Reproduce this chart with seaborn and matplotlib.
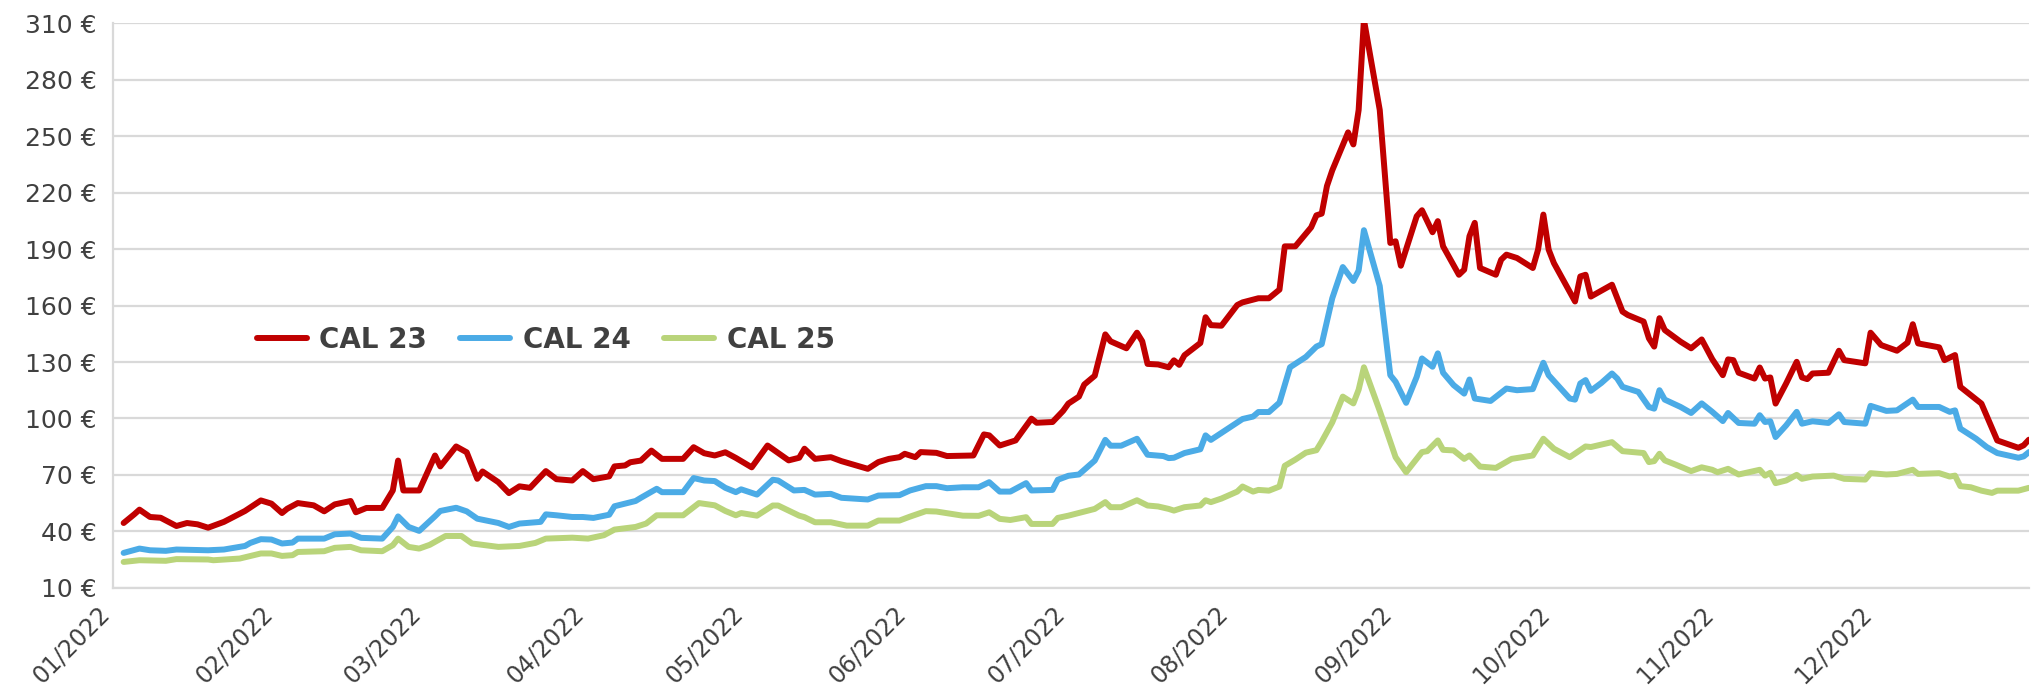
import pandas as pd
import matplotlib.pyplot as plt
import matplotlib.dates as mdates
from matplotlib.ticker import FuncFormatter
from matplotlib.transforms import ScaledTranslation
import seaborn as sns

# day of year offsets (0 = 01/01/2022) and prices in EUR
cal23_days = [2, 4, 5, 7, 9, 12, 14, 16, 18, 21, 25, 28, 30, 32, 33, 35, 38, 40, 42, 45,
              46, 48, 51, 53, 54, 55, 58, 61, 62, 65, 67, 69, 70, 73, 75, 77, 79, 82, 84, 87,
              89, 91, 94, 95, 97, 98, 100, 102, 104, 108, 110, 112, 114, 116, 118, 121, 124, 128, 130, 131,
              133, 136, 138, 143, 145, 147, 149, 150, 152, 153, 156, 158, 163, 165, 166, 168, 171, 174, 175, 178,
              180, 181, 183, 184, 186, 188, 189, 192, 194, 195, 196, 198, 200, 201, 202, 203, 206, 207, 208, 210,
              213, 214, 217, 219, 221, 222, 224, 227, 228, 229, 230, 231, 234, 235, 236, 237, 240, 242, 243, 244,
              247, 248, 250, 251, 252, 255, 256, 257, 258, 259, 262, 263, 264, 266, 269, 270, 271, 272, 273, 277,
              278, 279, 280, 284, 286, 287, 290, 291, 292, 293, 294, 297, 299, 301, 303, 305, 306, 307, 308, 311,
              312, 313, 314, 315, 317, 319, 320, 321, 322, 325, 327, 328, 332, 333, 335, 338, 340, 341, 342, 346,
              347, 349, 350, 354, 357, 361, 362, 363]
cal23_values = [44.4, 49, 51.5, 47.6, 47.2, 42.8, 44.4, 43.7, 41.9, 45, 50.8, 56.4, 54.7, 49.7, 52, 55, 53.8, 50.6, 54.3, 56.1,
                50.1, 52.4, 52.4, 61.7, 77.6, 61.7, 61.7, 80.3, 74.5, 85.1, 82, 67.9, 71.8, 66.1, 60.3, 63.9, 63.1, 72, 67.7, 67,
                72, 67.7, 69.2, 74.5, 75, 76.7, 77.6, 82.9, 78.5, 78.5, 84.7, 81.5, 80.3, 82, 79, 74, 85.6, 77.7, 79.1, 83.9,
                78.5, 79.4, 77.3, 73.2, 76.8, 78.5, 79.4, 81.2, 79.4, 82.1, 81.7, 80, 80.3, 91.5, 91, 85.6, 88.3, 99.9, 97.7, 98.1,
                104, 107.9, 111.6, 118, 122.7, 144.7, 141, 137.3, 145.6, 141, 129, 128.7, 127.2, 130.9, 128.5, 133.6, 140.1, 153.8, 149.6, 149.3,
                160.3, 161.7, 163.9, 163.9, 168.5, 191.5, 191.5, 201.6, 208, 208.9, 223.6, 231.9, 252.1, 245.7, 264, 312, 264, 193.3, 194.2, 181.2,
                207.5, 210.7, 199, 204.9, 191.5, 176.4, 179.1, 196.9, 204, 180, 176.4, 184.4, 187.1, 185.3, 180, 189.8, 208.4, 189.8, 182.6, 162.2,
                175.5, 176.4, 164.8, 171.1, 156.8, 155, 151.5, 142.6, 138.2, 153.3, 147, 140.8, 137.3, 142, 131.5, 123, 131.4, 131, 124.3, 121.2,
                127.1, 121.2, 121.8, 107.9, 118.6, 130.1, 121.8, 120.9, 123.9, 124.3, 136, 131, 129.3, 145.6, 139, 136, 140.3, 150.1, 139.9, 137.8,
                131, 133.7, 116.8, 107.9, 88.3, 84.4, 85.7, 88.7]

cal24_days = [2, 5, 7, 10, 12, 18, 21, 25, 26, 28, 30, 32, 34, 35, 40, 42, 45, 47, 51, 53,
              54, 56, 58, 61, 62, 65, 67, 69, 73, 75, 77, 81, 82, 84, 87, 89, 91, 94, 95, 99,
              100, 103, 104, 108, 110, 112, 114, 116, 118, 119, 122, 125, 126, 129, 131, 133, 136, 138, 143, 145,
              149, 151, 154, 156, 158, 161, 164, 166, 168, 170, 173, 174, 178, 179, 181, 183, 186, 188, 189, 191,
              194, 196, 199, 200, 201, 203, 206, 207, 208, 213, 214, 216, 217, 219, 221, 223, 226, 228, 229, 231,
              233, 235, 236, 237, 240, 242, 243, 245, 247, 248, 250, 251, 252, 254, 256, 257, 258, 261, 264, 266,
              269, 271, 272, 276, 277, 278, 279, 280, 282, 284, 285, 286, 289, 291, 292, 293, 294, 297, 299, 301,
              303, 305, 306, 308, 311, 312, 313, 314, 315, 317, 319, 320, 322, 325, 327, 328, 332, 333, 336, 338,
              341, 342, 346, 348, 349, 350, 353, 355, 357, 361, 362, 363]
cal24_values = [28.5, 30.8, 29.9, 29.6, 30.3, 29.9, 30.3, 32.2, 33.8, 35.8, 35.6, 33.5, 34, 36.1, 36.1, 38.4, 38.8, 36.5, 36.1, 42.3,
                47.9, 42.3, 40.2, 48, 50.8, 52.5, 50.6, 46.7, 44.4, 42.3, 44.1, 45, 49, 48.5, 47.6, 47.6, 47.1, 48.8, 53.3, 56.1,
                57.8, 62.6, 60.8, 60.8, 68.3, 67, 66.7, 63.1, 60.8, 62.3, 59.5, 67.4, 67, 61.7, 62, 59.5, 59.9, 57.8, 56.9, 59,
                59.2, 61.7, 64, 64, 62.9, 63.4, 63.4, 66.1, 61.1, 61.1, 65.6, 61.7, 62, 67.4, 69.5, 70.2, 77.6, 88.6, 85.5, 85.5,
                89.2, 80.7, 80, 78.9, 79.1, 81.6, 83.6, 91, 88.6, 97.9, 99.7, 101, 103.4, 103.4, 108.4, 127.2, 132.7, 138.2, 139.5, 163.9,
                180.5, 173.1, 178.6, 200.1, 170.4, 123, 119.5, 108.3, 122.1, 131.9, 127.5, 134.6, 124.3, 117.7, 113.2, 120.7, 110.6, 109.3, 115.9, 115,
                115.6, 129.6, 123, 110.6, 110, 118.6, 120.4, 114.7, 118.9, 123.9, 121.2, 116.8, 114.1, 106.1, 105.2, 115, 110, 106.1, 102.9, 108,
                103.5, 98.6, 102.9, 97.6, 97.2, 101.7, 98.1, 98.5, 90.1, 96.3, 103.5, 97.2, 98.5, 97.6, 102.2, 98.1, 97.2, 106.7, 104, 104.3,
                110, 106.1, 106.1, 103.5, 104.3, 94.6, 89.2, 84.8, 81.6, 79.1, 79.8, 82.1]

cal25_days = [2, 5, 10, 12, 18, 19, 24, 28, 30, 32, 34, 35, 40, 42, 45, 47, 51, 53, 54, 56,
              58, 60, 63, 66, 68, 73, 77, 80, 82, 87, 90, 93, 95, 99, 101, 103, 108, 111, 114, 116,
              118, 119, 122, 125, 126, 130, 131, 133, 136, 139, 143, 145, 149, 151, 154, 156, 158, 161, 164, 166,
              168, 170, 173, 174, 178, 179, 181, 186, 188, 189, 191, 194, 196, 198, 200, 201, 203, 206, 207, 208,
              210, 213, 214, 216, 217, 219, 221, 222, 224, 226, 228, 229, 231, 233, 235, 236, 237, 240, 243, 245,
              248, 249, 251, 252, 254, 256, 257, 259, 262, 265, 269, 271, 273, 276, 279, 280, 284, 286, 290, 291,
              292, 293, 294, 296, 299, 301, 303, 304, 306, 308, 312, 313, 314, 315, 317, 319, 320, 322, 326, 328,
              332, 333, 336, 338, 341, 342, 346, 348, 349, 350, 352, 354, 356, 357, 361, 363]
cal25_values = [23.7, 24.6, 24.3, 25.2, 25, 24.6, 25.5, 28.2, 28.2, 26.9, 27.3, 29, 29.4, 31.2, 31.7, 29.9, 29.4, 32.6, 36.1, 31.7,
                30.8, 32.8, 37.5, 37.5, 33.5, 31.7, 32.2, 33.8, 36.1, 36.6, 36.1, 37.9, 40.9, 42.3, 44.1, 48.5, 48.5, 55, 53.8, 50.8,
                48.5, 49.7, 48.3, 53.7, 53.7, 48.3, 47.5, 44.8, 44.8, 43, 43, 45.7, 45.7, 47.8, 50.7, 50.5, 49.6, 48.3, 48.2, 50.1,
                46.6, 46, 47.5, 43.9, 43.9, 47.1, 48.3, 51.9, 55.5, 52.8, 52.8, 56.5, 53.7, 53.2, 51.9, 51, 52.8, 53.7, 56.5, 55.5,
                57.4, 61.1, 63.8, 61.1, 62, 61.6, 63.8, 74.8, 78.1, 81.8, 83.1, 87.7, 97.9, 111.6, 108, 115.3, 127.2, 104, 79.4, 71.4,
                82.1, 82.6, 88.3, 83.3, 83, 78.5, 80.3, 74.4, 73.7, 78.5, 80.3, 89.2, 83.9, 79.4, 85.1, 84.8, 87.4, 82.6, 81.6, 76.8,
                77.3, 81.2, 77.7, 75.5, 72, 74, 72.7, 71.4, 73.2, 70.2, 72.7, 69.6, 71.1, 65.6, 67, 70, 67.9, 69.1, 69.6, 67.9,
                67.5, 70.9, 70.2, 70.5, 72.7, 70.5, 70.9, 69.1, 69.6, 64, 63.4, 61.6, 60.4, 61.6, 61.6, 63.1]

series_names = ["CAL 23", "CAL 24", "CAL 25"]
series_colors = ["#C00000", "#4BABE6", "#B9D47A"]
y_ticks = list(range(10, 311, 30))

start = pd.Timestamp("2022-01-01")


def to_dates(days):
    return start + pd.to_timedelta(days, unit="D")


sns.set_style("white")
plt.rcParams['font.family'] = ['DejaVu Sans']

fig = plt.figure(figsize=(20.34, 6.91), dpi=100)
ax = fig.add_axes([0.0556, 0.1495, 0.9419, 0.8165])

series = [(cal23_days, cal23_values), (cal24_days, cal24_values), (cal25_days, cal25_values)]
for (days, vals), name, col in zip(series, series_names, series_colors):
    sns.lineplot(x=to_dates(days), y=vals, ax=ax, color=col, linewidth=4.3, label=name,
                 solid_capstyle='round', solid_joinstyle='round')

ax.set_ylim(10, 310)
ax.set_xlim(start, start + pd.Timedelta(days=363))
ax.set_yticks(y_ticks)
ax.yaxis.set_major_formatter(FuncFormatter(lambda v, p: f"{int(v)} €"))
ax.xaxis.set_major_locator(mdates.MonthLocator())
ax.xaxis.set_major_formatter(mdates.DateFormatter('%m/%Y'))

ax.grid(axis='y', color='#d9d9d9', linewidth=1.6)
ax.set_axisbelow(True)
for s in ['top', 'right']:
    ax.spines[s].set_visible(False)
for s in ['left', 'bottom']:
    ax.spines[s].set_color('#d9d9d9')
    ax.spines[s].set_linewidth(1.6)

ax.tick_params(axis='both', colors='#d9d9d9', labelcolor='#404040', labelsize=18,
               length=6, width=1.6, direction='out')
ax.tick_params(axis='y', pad=6)
ax.tick_params(axis='x', pad=4, labelsize=17)
shift = ScaledTranslation(-0.16, 0, fig.dpi_scale_trans)
for lbl in ax.get_xticklabels():
    lbl.set_rotation(45)
    lbl.set_ha('right')
    lbl.set_va('top')
    lbl.set_rotation_mode('anchor')
    lbl.set_transform(lbl.get_transform() + shift)

ax.set_xlabel("")
ax.set_ylabel("")

leg = ax.legend(loc='center left', bbox_to_anchor=(0.075, 0.439), ncol=3, frameon=False,
                borderpad=0, borderaxespad=0, handlelength=1.8, handletextpad=0.45,
                columnspacing=1.2, prop={'weight': 'bold', 'size': 20})
for t in leg.get_texts():
    t.set_color('#404040')

fig.savefig("out.png", dpi=100)
